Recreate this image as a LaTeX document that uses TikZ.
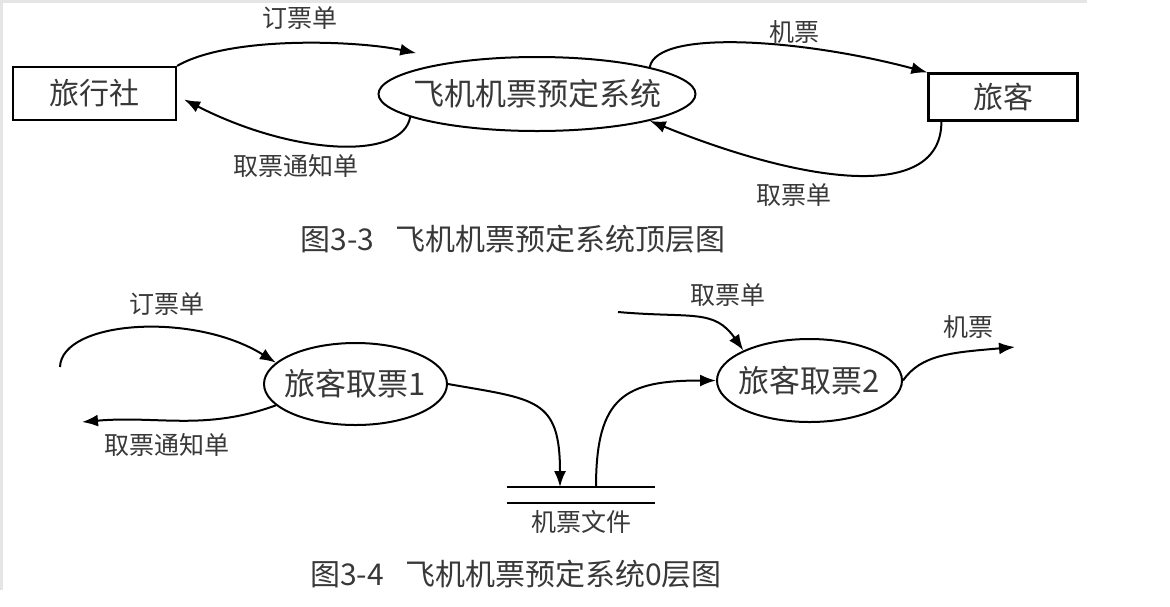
\documentclass[tikz,border=0pt]{standalone}
\usepackage{fontspec}
\setmainfont{Noto Sans CJK SC}
\usetikzlibrary{shapes.geometric,arrows.meta,positioning}
\definecolor{inkgray}{HTML}{383838}
\tikzset{
  extbox/.style={draw, rectangle, line width=1.1pt, inner sep=0pt, text=inkgray, font=\fontsize{15pt}{15pt}\selectfont},
  proc/.style={draw, ellipse, line width=1pt, inner xsep=-6pt, inner ysep=0pt, text=inkgray, font=\fontsize{15.5pt}{15.5pt}\selectfont},
  flowlbl/.style={text=inkgray, font=\fontsize{12.5pt}{12.5pt}\selectfont},
  figcap/.style={text=inkgray, font=\fontsize{15pt}{15pt}\selectfont},
  flow/.style={->, line width=1pt}
}
\begin{document}
\begin{tikzpicture}[x=0.5pt,y=0.5pt,>={Latex[length=8pt,width=6pt]}]
\useasboundingbox (0,0) rectangle (1170,-606);
\draw[gray!20, line width=1.5pt] (1087,-1) -- (1,-1) -- (1,-590);

% top level
\node[extbox, minimum width=81.5pt, minimum height=26.5pt] (agency) at (94.5,-93.5) {旅行社};
\node[proc, minimum width=158.5pt, minimum height=37pt] (sys) at (537,-94) {飞机机票预定系统};
\node[extbox, minimum width=74.5pt, minimum height=23.5pt] (pass) at (1003,-97) {旅客};

\draw[flow] (agency.north east) to[out=30, in=168, looseness=0.65] ([shift={(-4pt,7pt)}]sys.north west);
\draw[flow] ([shift={(-7pt,2pt)}]sys.south west) to[out=-100, in=-27, out looseness=0.5, in looseness=1.4] ([shift={(3.5pt,-3pt)}]agency.east);
\draw[flow] (sys.north east) to[out=80, in=165, out looseness=0.36, in looseness=1.18] (pass.north west);
\draw[flow] ([xshift=7pt]pass.south west) to[out=-90, in=-22, out looseness=0.7, in looseness=1.5] (sys.south east);

\node[flowlbl] (ordertop) at (300,-18) {订票单};
\node[flowlbl] (noticetop) at (296,-166) {取票通知单};
\node[flowlbl] (tickettop) at (794,-32) {机票};
\node[flowlbl] (slipttop) at (794,-195) {取票单};

\node[figcap] (cap3) at (513,-239) {图3-3\hspace{0.7em}飞机机票预定系统顶层图};

% level 0
\node[proc, minimum width=91.5pt, minimum height=41pt] (get1) at (355.5,-384) {旅客取票1};
\node[proc, minimum width=92.5pt, minimum height=41.5pt] (get2) at (809.5,-380.5) {旅客取票2};
\node[minimum width=74pt, minimum height=8pt, inner sep=0pt, outer sep=0pt] (store) at (581,-495) {};
\draw[line width=1pt] (store.north west) -- (store.north east) (store.south west) -- (store.south east);
\node[flowlbl, below=0pt of store] (storelbl) {机票文件};

\coordinate (orderin) at (60,-367);
\coordinate (noticeout) at (82,-422);
\coordinate (slipin) at (618,-312);
\coordinate (ticketout) at (1015,-347);

\draw[flow] (orderin) to[out=88, in=148, out looseness=0.55, in looseness=1.15] (get1.165);
\draw[flow] (get1.195) to[out=200, in=5] (noticeout);
\draw[flow] (get1.east) to[out=-10, in=90, looseness=1.5] ([xshift=-10.5pt]store.north);
\draw[flow] ([xshift=7.5pt]store.north) to[out=90, in=180, looseness=1.45] (get2.west);
\draw[flow] (slipin) to[out=-5, in=125, out looseness=1.45, in looseness=1] (get2.north west);
\draw[flow] (get2.east) to[out=55, in=185, out looseness=0.7, in looseness=1.4] (ticketout);

\node[flowlbl] (orderbot) at (167,-304) {订票单};
\node[flowlbl] (noticebot) at (167,-445) {取票通知单};
\node[flowlbl] (slipbot) at (728,-295) {取票单};
\node[flowlbl] (ticketbot) at (968,-327) {机票};

\node[figcap] (cap4) at (516,-574) {图3-4\hspace{0.7em}飞机机票预定系统0层图};
\end{tikzpicture}
\end{document}
